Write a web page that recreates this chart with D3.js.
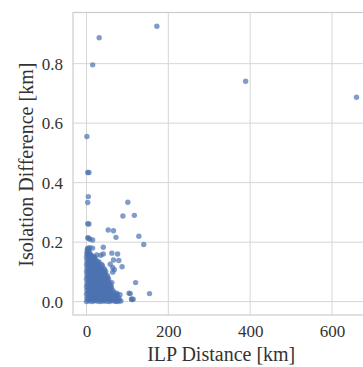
<!DOCTYPE html>
<html>
<head>
<meta charset="utf-8">
<script src="https://cdn.jsdelivr.net/npm/d3@7"></script>
<style>
  body { margin: 0; background: #fff; }
  text { font-family: "Liberation Serif", "DejaVu Serif", serif; fill: #333; }
</style>
</head>
<body>
<svg id="chart"></svg>
<script>
// isolated points: [ILP distance km, isolation difference km]
const outliers = [
  [172, 0.926], [31, 0.887], [15, 0.796], [389, 0.741], [660, 0.687],
  [1, 0.555], [3, 0.434], [6, 0.434], [4.5, 0.353], [3, 0.333],
  [3, 0.262], [6, 0.261], [3, 0.215], [5, 0.213], [8.5, 0.21],
  [101, 0.334], [89, 0.288], [117, 0.290], [53, 0.241], [66, 0.238],
  [72, 0.216], [128, 0.220], [140, 0.192], [15, 0.207],
  [3, 0.180], [8, 0.181], [15, 0.180], [41, 0.183],
  [19, 0.151], [35, 0.156], [25, 0.157], [41, 0.160], [62, 0.163], [76, 0.160],
  [79, 0.138], [66, 0.140], [58, 0.126], [87, 0.117], [64, 0.115], [68, 0.107], [64, 0.099],
  [120, 0.064], [62, 0.064], [154, 0.027], [107, 0.027], [110, 0.009], [111, 0.007],
  [82, 0.023], [75, 0.024], [72, 0.002], [76, 0.007], [74, 0.028], [104, 0.028], [114, 0.008]
];

// the dense blob near the origin
const cluster = [
  [0, 0.000], [7, 0.002], [14, 0.000], [21, 0.003], [28, 0.001], [35, 0.000], [42, 0.002], [49, 0.001], [56, 0.000], [63, 0.003], [70, 0.001], [77, 0.000], [84, 0.002],
  [3, 0.006], [10, 0.007], [17, 0.005], [24, 0.006], [31, 0.007], [38, 0.005], [45, 0.006], [52, 0.007], [59, 0.005], [66, 0.006], [73, 0.007], [80, 0.005],
  [1, 0.012], [8, 0.013], [15, 0.011], [22, 0.012], [29, 0.014], [36, 0.012], [43, 0.011], [50, 0.013], [57, 0.012], [64, 0.011], [71, 0.013], [79, 0.012],
  [4, 0.019], [11, 0.018], [18, 0.020], [25, 0.019], [32, 0.018], [39, 0.020], [46, 0.019], [53, 0.018], [60, 0.020], [67, 0.019], [74, 0.018],
  [0, 0.025], [7, 0.026], [14, 0.024], [21, 0.025], [28, 0.027], [35, 0.025], [42, 0.024], [49, 0.026], [56, 0.025], [63, 0.024], [70, 0.026],
  [3, 0.031], [10, 0.032], [17, 0.030], [24, 0.031], [31, 0.032], [38, 0.030], [45, 0.031], [52, 0.032], [59, 0.030], [66, 0.031],
  [1, 0.038], [8, 0.037], [15, 0.039], [22, 0.038], [29, 0.036], [36, 0.038], [43, 0.039], [50, 0.037], [57, 0.038], [65, 0.037],
  [4, 0.044], [11, 0.043], [18, 0.045], [25, 0.044], [32, 0.043], [39, 0.045], [46, 0.044], [53, 0.043], [60, 0.045],
  [0, 0.050], [7, 0.051], [14, 0.049], [21, 0.050], [28, 0.052], [35, 0.050], [42, 0.049], [49, 0.051], [56, 0.050], [61, 0.049],
  [3, 0.056], [10, 0.057], [17, 0.055], [24, 0.056], [31, 0.057], [38, 0.055], [45, 0.056], [52, 0.057], [58, 0.055],
  [1, 0.062], [8, 0.063], [15, 0.061], [22, 0.062], [29, 0.064], [36, 0.062], [43, 0.061], [50, 0.063], [57, 0.062],
  [4, 0.069], [11, 0.068], [18, 0.070], [25, 0.069], [32, 0.068], [39, 0.070], [46, 0.069], [53, 0.068],
  [0, 0.075], [7, 0.076], [14, 0.074], [21, 0.075], [28, 0.077], [35, 0.075], [42, 0.074], [49, 0.076], [54, 0.075],
  [3, 0.081], [10, 0.082], [17, 0.080], [24, 0.081], [31, 0.082], [38, 0.080], [45, 0.081], [52, 0.082],
  [1, 0.088], [8, 0.087], [15, 0.089], [22, 0.088], [29, 0.086], [36, 0.088], [43, 0.089], [51, 0.087],
  [4, 0.094], [11, 0.093], [18, 0.095], [25, 0.094], [32, 0.093], [39, 0.095], [46, 0.094],
  [0, 0.100], [7, 0.101], [14, 0.099], [21, 0.100], [28, 0.102], [35, 0.100], [42, 0.099], [47, 0.101],
  [3, 0.106], [10, 0.107], [17, 0.105], [24, 0.106], [31, 0.107], [38, 0.105], [44, 0.106],
  [1, 0.112], [8, 0.113], [15, 0.111], [22, 0.112], [29, 0.114], [36, 0.112], [43, 0.111],
  [4, 0.119], [11, 0.118], [18, 0.120], [25, 0.119], [32, 0.118], [39, 0.120],
  [0, 0.125], [7, 0.126], [14, 0.124], [21, 0.125], [28, 0.127], [37, 0.125],
  [3, 0.131], [10, 0.132], [17, 0.130], [24, 0.131], [31, 0.132],
  [1, 0.138], [8, 0.137], [15, 0.139], [22, 0.138], [28, 0.136],
  [4, 0.144], [10, 0.143], [16, 0.145], [21, 0.144],
  [0, 0.150], [6, 0.151], [12, 0.149], [17, 0.150],
  [3, 0.156], [8, 0.157], [12, 0.155],
  [1, 0.162], [5, 0.163], [9, 0.161],
  [2, 0.168], [6, 0.169],
  [2, 0.175], [5, 0.176]
];

const xTicks = [0, 200, 400, 600];
const yTicks = [0.0, 0.2, 0.4, 0.6, 0.8];
const xDomain = [-33, 693];
const yDomain = [-0.045, 0.972];

const W = 363, H = 367;
const margin = { top: 12.5, left: 73, bottom: 52, right: -7 };

const svg = d3.select('#chart').attr('width', W).attr('height', H);

const x = d3.scaleLinear().domain(xDomain).range([margin.left, W - margin.right]);
const y = d3.scaleLinear().domain(yDomain).range([H - margin.bottom, margin.top]);

// grid
svg.append('g')
  .selectAll('line')
  .data(xTicks)
  .join('line')
  .attr('x1', (d) => x(d)).attr('x2', (d) => x(d))
  .attr('y1', y.range()[1]).attr('y2', y.range()[0])
  .attr('stroke', '#d6d6d6').attr('stroke-width', 1);

svg.append('g')
  .selectAll('line')
  .data(yTicks)
  .join('line')
  .attr('x1', x.range()[0]).attr('x2', x.range()[1])
  .attr('y1', (d) => y(d)).attr('y2', (d) => y(d))
  .attr('stroke', '#d6d6d6').attr('stroke-width', 1);

// spines
svg.append('rect')
  .attr('x', x.range()[0]).attr('y', y.range()[1])
  .attr('width', x.range()[1] - x.range()[0])
  .attr('height', y.range()[0] - y.range()[1])
  .attr('fill', 'none').attr('stroke', '#cccccc').attr('stroke-width', 1.2);

// points
const points = cluster.concat(outliers);
svg.append('g')
  .selectAll('circle')
  .data(points)
  .join('circle')
  .attr('cx', (d) => x(d[0]))
  .attr('cy', (d) => y(d[1]))
  .attr('r', 2.7)
  .attr('fill', '#4c72b0')
  .attr('fill-opacity', 0.7);

// axes, tick labels only
const xAxis = svg.append('g')
  .attr('transform', `translate(0,${y.range()[0]})`)
  .call(d3.axisBottom(x).tickValues(xTicks).tickSize(0).tickPadding(10).tickFormat(d3.format('d')));
const yAxis = svg.append('g')
  .attr('transform', `translate(${x.range()[0]},0)`)
  .call(d3.axisLeft(y).tickValues(yTicks).tickSize(0).tickPadding(10).tickFormat(d3.format('.1f')));

[xAxis, yAxis].forEach((g) => {
  g.select('.domain').remove();
  g.selectAll('text').attr('font-family', '"Liberation Serif", serif').attr('font-size', 17).attr('fill', '#333');
});

svg.append('text')
  .attr('x', (x(0) + x(600)) / 2 + 12)
  .attr('y', 361)
  .attr('text-anchor', 'middle')
  .attr('font-size', 20)
  .text('ILP Distance [km]');

svg.append('text')
  .attr('transform', `translate(33,${(y(0) + y(0.8)) / 2 - 18}) rotate(-90)`)
  .attr('text-anchor', 'middle')
  .attr('font-size', 20)
  .text('Isolation Difference [km]');
</script>
</body>
</html>
